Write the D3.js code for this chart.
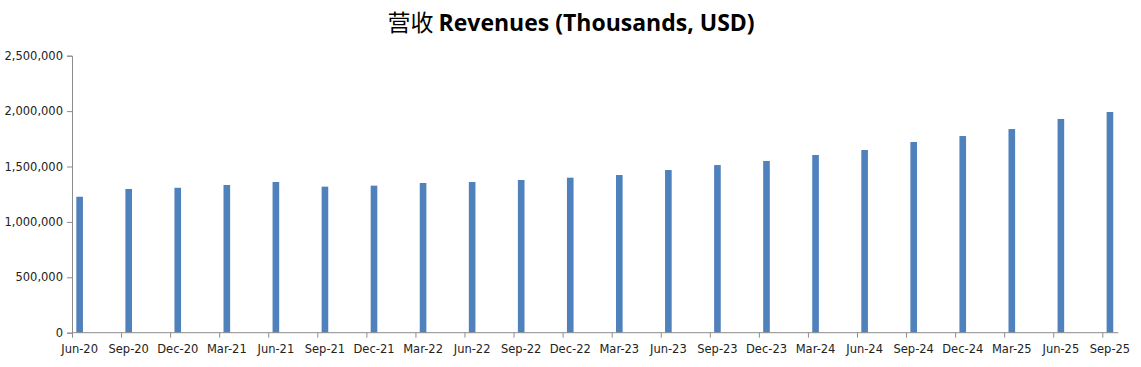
<!DOCTYPE html>
<meta charset="utf-8">
<head>
    <title>营收 Revenues (Thousands, USD)</title>
    <style>
        body { margin: 0; background: #fff; }
    </style>
</head>
<body>
<script src="https://d3js.org/d3.v7.min.js"></script>
<div id="chart"></div>
<script>

    // quarter labels and revenue values (thousands USD)
    const quarters = ["Jun-20", "Sep-20", "Dec-20", "Mar-21", "Jun-21", "Sep-21", "Dec-21", "Mar-22",
        "Jun-22", "Sep-22", "Dec-22", "Mar-23", "Jun-23", "Sep-23", "Dec-23", "Mar-24",
        "Jun-24", "Sep-24", "Dec-24", "Mar-25", "Jun-25", "Sep-25"]
    const revenues = [1227000, 1297000, 1308000, 1333000, 1360000, 1318000, 1327000, 1351000,
        1360000, 1378000, 1399000, 1423000, 1468000, 1513000, 1550000, 1604000,
        1649000, 1721000, 1775000, 1838000, 1929000, 1992000]
    const yTicks = [0, 500000, 1000000, 1500000, 2000000, 2500000]

    const data = quarters.map((q, i) => ({quarter: q, value: revenues[i]}))

    const W = 1141, H = 367
    const plot = {left: 72, top: 55.7, bottom: 332.7, lastTick: 1102.3, axisEnd: 1118.3}

    const svg = d3.select("#chart")
      .append("svg")
        .attr("width", W)
        .attr("height", H)

    // x: ticks on category positions, bars sit just right of each tick
    const x = d3.scalePoint()
      .domain(quarters)
      .range([plot.left, plot.lastTick])
    const step = x.step()
    const barOffset = step * 0.088, barWidth = step * 0.135

    const y = d3.scaleLinear()
      .domain([0, 2500000])
      .range([plot.bottom, plot.top])

    const axisColor = "#8c8c8c"
    const font = "'DejaVu Sans', Verdana, sans-serif"

    // y axis
    const yAxis = svg.append("g")
      .attr("transform", `translate(${plot.left},0)`)
      .call(d3.axisLeft(y).tickValues(yTicks).tickSize(5).tickPadding(4)
        .tickFormat(d3.format(",")))
    yAxis.select(".domain").attr("stroke", axisColor)
    yAxis.selectAll(".tick line").attr("stroke", axisColor)
    yAxis.selectAll("text")
      .style("font-family", font)
      .style("font-size", "11.5px")
      .attr("fill", "#222")

    // bars
    svg.selectAll("rect.bar")
      .data(data)
      .join("rect")
        .attr("class", "bar")
        .attr("x", d => x(d.quarter) + barOffset)
        .attr("width", barWidth)
        .attr("y", d => y(d.value))
        .attr("height", d => y(0) - y(d.value))
        .attr("fill", "#4f81bd")

    // x axis
    const xAxis = svg.append("g")
      .attr("transform", `translate(0,${plot.bottom})`)
      .call(d3.axisBottom(x).tickSize(5).tickPadding(7).tickSizeOuter(0))
    xAxis.select(".domain")
      .attr("d", `M${plot.left},0H${plot.axisEnd}`)
      .attr("stroke", axisColor)
    xAxis.selectAll(".tick line").attr("stroke", axisColor)
    // labels are centred under the bars rather than the ticks
    xAxis.selectAll("text")
      .attr("dx", barOffset + barWidth / 2 - 0.5)
      .style("font-family", font)
      .style("font-size", "11.5px")
      .attr("fill", "#222")

    // title
    const title = svg.append("text")
      .attr("x", 571)
      .attr("y", 31)
      .attr("text-anchor", "middle")
      .style("font-size", "23px")
    title.append("tspan")
      .style("font-family", "'Noto Sans CJK SC', sans-serif")
      .style("font-weight", "normal")
      .text("营收 ")
    title.append("tspan")
      .style("font-family", "'Open Sans', sans-serif")
      .style("font-weight", "bold")
      .text("Revenues (Thousands, USD)")
</script>
</body>
